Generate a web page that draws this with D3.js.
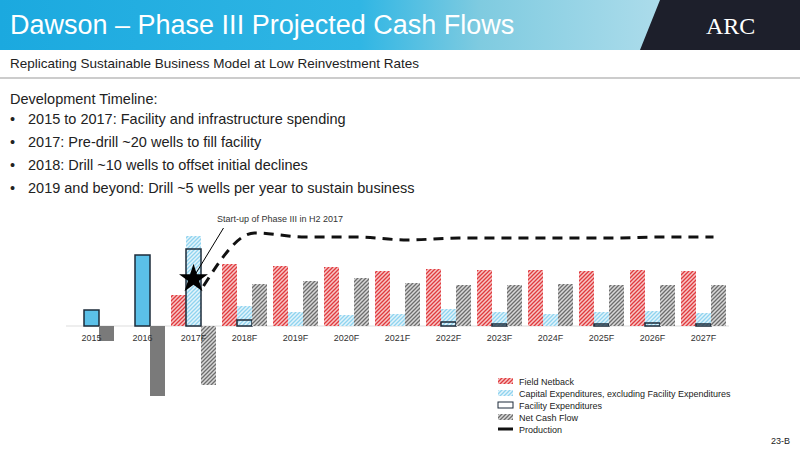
<!DOCTYPE html>
<html><head><meta charset="utf-8">
<script src="https://cdnjs.cloudflare.com/ajax/libs/d3/7.8.5/d3.min.js"></script>
<style>body{margin:0;font-family:"Liberation Sans",Arial,sans-serif;}</style>
</head><body><svg id="c" width="800" height="450"></svg>
<script>
var categories = ['2015','2016','2017F','2018F','2019F','2020F','2021F','2022F','2023F','2024F','2025F','2026F','2027F'];
var fieldNetback = [0,0,31,62,60,59,55,57,56,56,55,56,55];
var capex = [0,0,90,20,14,11,12,17,14,12,14,15,13];
var facility = [16,71,77,6,0,0,0,4,2,0,2,3,2];
var netCash = [-15,-70,-59,42,45,48,43,41,41,42,41,41,41];
var production = [null,null,40,93,89,89,86,88,88,88,88,89,89];
var actual = [true,true,false,false,false,false,false,false,false,false,false,false,false];
var bullets = ['2015 to 2017: Facility and infrastructure spending','2017: Pre-drill ~20 wells to fill facility','2018: Drill ~10 wells to offset initial declines','2019 and beyond: Drill ~5 wells per year to sustain business'];

var svg = d3.select('#c');
var defs = svg.append('defs');
var g1 = defs.append('linearGradient').attr('id','hdr');
g1.append('stop').attr('offset','0').attr('stop-color','#1ba9df');
g1.append('stop').attr('offset','0.45').attr('stop-color','#30b6e4');
g1.append('stop').attr('offset','0.6').attr('stop-color','#7fcbe0');
g1.append('stop').attr('offset','1').attr('stop-color','#cfe9f3');
function hatch(id, col, bg){
  var p = defs.append('pattern').attr('id',id).attr('width',4).attr('height',4)
    .attr('patternUnits','userSpaceOnUse');
  p.append('rect').attr('width',4).attr('height',4).attr('fill',bg);
  p.append('path').attr('d','M-1,1 l2,-2 M0,4 l4,-4 M3,5 l2,-2').attr('stroke',col).attr('stroke-width',1.3);
}
hatch('pr','#e03a3e','#f7c6c6');
hatch('pb','#8fd3ef','#e3f4fb');
hatch('pg','#6d6d6d','#d8d8d8');

// header
svg.append('rect').attr('width',800).attr('height',50).attr('fill','url(#hdr)');
svg.append('path').attr('d','M660,0 L800,0 L800,50 L640,50 Z').attr('fill','#1d1f2b');
svg.append('text').attr('x',706).attr('y',34).attr('fill','#fff').attr('font-family','Liberation Serif,serif').attr('font-size',24).text('ARC');
svg.append('text').attr('x',10).attr('y',34).attr('fill','#fff').attr('font-size',27).text('Dawson – Phase III Projected Cash Flows');
svg.append('rect').attr('y',50).attr('width',800).attr('height',28).attr('fill','#fff');
svg.append('line').attr('x1',0).attr('x2',800).attr('y1',78).attr('y2',78).attr('stroke','#ccc').attr('stroke-width',2);
svg.append('text').attr('x',10).attr('y',68).attr('font-size',13.5).attr('fill','#222').text('Replicating Sustainable Business Model at Low Reinvestment Rates');
svg.append('text').attr('x',10).attr('y',104).attr('font-size',14.5).attr('fill','#222').text('Development Timeline:');
bullets.forEach(function(b,i){
  svg.append('text').attr('x',10).attr('y',124+i*23).attr('font-size',14.5).attr('fill','#222').text('•   ');
  svg.append('text').attr('x',28).attr('y',124+i*23).attr('font-size',14.5).attr('fill','#222').text(b);
});

// chart
var x = d3.scaleBand().domain(categories).range([66,729]);
var y = d3.scaleLinear().domain([-100,100]).range([426,226]);
var bw = 15;
var cx = function(i){ return x(categories[i]) + x.bandwidth()/2; };
var chart = svg.append('g');
chart.append('line').attr('x1',66).attr('x2',729).attr('y1',y(0)).attr('y2',y(0)).attr('stroke','#ddd');
function bars(vals, off, fill, stroke){
  chart.selectAll(null).data(vals).enter().filter(function(d){ return d !== 0; }).append('rect')
    .attr('x', function(d){ var i = vals.indexOf(d); return 0; })
    .remove();
  vals.forEach(function(d,i){
    if(!d) return;
    chart.append('rect').attr('x',cx(i)+off-bw/2).attr('width',bw)
      .attr('y',y(Math.max(0,d))).attr('height',Math.abs(y(d)-y(0)))
      .attr('fill',typeof fill==='function'?fill(i):fill)
      .attr('stroke',stroke||'none').attr('stroke-width',1.5);
  });
}
bars(fieldNetback,-15,'url(#pr)');
bars(capex,0,'url(#pb)');
bars(facility,0,function(i){ return actual[i] ? '#5bc0e8' : 'none'; },'#1c2b3a');
bars(netCash,15,function(i){ return actual[i] ? '#7a7a7a' : 'url(#pg)'; });
chart.selectAll('.xl').data(categories).enter().append('text')
  .attr('x',function(d,i){ return cx(i); }).attr('y',y(0)+15)
  .attr('text-anchor','middle').attr('font-size',9).attr('fill','#333').text(function(d){ return d; });

// production line
var yp = d3.scaleLinear().domain([0,100]).range([y(0),y(0)-100]);
var pts = production.map(function(d,i){ return [cx(i)+10,d]; }).filter(function(p){ return p[1]!==null; });
chart.append('path').datum(pts)
  .attr('d', d3.line().x(function(p){ return p[0]; }).y(function(p){ return yp(p[1]); }).curve(d3.curveMonotoneX))
  .attr('fill','none').attr('stroke','#111').attr('stroke-width',3).attr('stroke-dasharray','10,7');

// star + annotation
chart.append('path').attr('d',d3.symbol(d3.symbolStar,260)()).attr('transform','translate('+cx(2)+','+(y(0)-47)+')').attr('fill','#000');
chart.append('line').attr('x1',cx(2)+30).attr('y1',228).attr('x2',cx(2)+2).attr('y2',y(0)-52).attr('stroke','#000');
chart.append('text').attr('x',217).attr('y',222).attr('font-size',9).attr('fill','#333').text('Start-up of Phase III in H2 2017');

// legend
var leg = [['Field Netback','url(#pr)',null],['Capital Expenditures, excluding Facility Expenditures','url(#pb)',null],['Facility Expenditures','#fff','#1c2b3a'],['Net Cash Flow','url(#pg)',null]];
leg.forEach(function(l,i){
  var yy = 378 + i*12;
  svg.append('rect').attr('x',498).attr('y',yy).attr('width',15).attr('height',6).attr('fill',l[1]).attr('stroke',l[2]||'none');
  svg.append('text').attr('x',519).attr('y',yy+7).attr('font-size',9).attr('fill','#222').text(l[0]);
});
svg.append('line').attr('x1',498).attr('x2',513).attr('y1',429).attr('y2',429).attr('stroke','#111').attr('stroke-width',3);
svg.append('text').attr('x',519).attr('y',433).attr('font-size',9).attr('fill','#222').text('Production');
svg.append('text').attr('x',790).attr('y',444).attr('text-anchor','end').attr('font-size',9).attr('fill','#222').text('23-B');
</script></body></html>
